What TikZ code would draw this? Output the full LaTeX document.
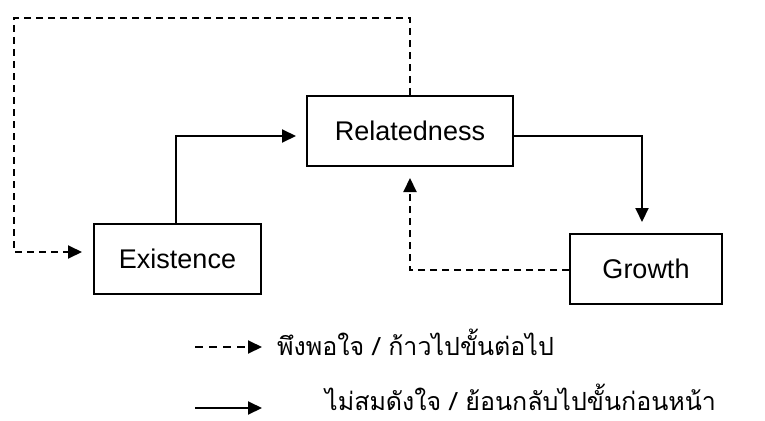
\documentclass[tikz,border=0pt]{standalone}
\usepackage{fontspec}
\setmainfont{Liberation Sans}
\newfontfamily\thaifont[Script=Thai]{Loma}
\usetikzlibrary{arrows.meta,calc,positioning}
\tikzset{
        block/.style = {draw, rectangle, line width=2pt,
            minimum height=70pt,
            font=\fontsize{27}{30}\selectfont},
        arrow/.style = {draw, line width=2pt, -{Triangle[length=14pt,width=13pt]}},
        dasharrow/.style = {arrow, dash pattern=on 7pt off 5pt},
        legend/.style = {anchor=base west, inner sep=0pt, font=\thaifont\fontsize{25}{30}\selectfont},
    }

\begin{document}
\begin{tikzpicture}[x=1pt,y=-1pt]
    \useasboundingbox (0,0) rectangle (765,420);

    \node[block, minimum width=206pt] (rel) at (410,131) {Relatedness};
    \node[block, minimum width=167pt] (exi) at (177.5,259) {Existence};
    \node[block, minimum width=152pt] (gro) at (646,269) {Growth};

    % progression
    \draw[arrow] (exi.north -| 176,0) |- ($(rel.west) + (-10,5)$);
    \draw[arrow] ($(rel.east) + (0,5)$) -| ($(gro.north) + (-4,-11)$);

    % regression
    \draw[dasharrow] (rel.north) -- (410,18) -- (14,18) |- ($(exi.west) + (-11,-7)$);
    \draw[dasharrow] ($(gro.west) + (0,1)$) -| ($(rel.south) + (0,11)$);

    % legend
    \coordinate (l1a) at (195,347);
    \coordinate (l1b) at (262,347);
    \coordinate (l2a) at (195,408);
    \coordinate (l2b) at (262,408);
    \draw[dasharrow, dash pattern=on 8pt off 6pt] (l1a) -- (l1b);
    \draw[arrow] (l2a) -- (l2b);
    \node[legend] (t1) at (277,355) {พึงพอใจ / ก้าวไปขั้นต่อไป};
    \node[legend] (t2) at (325,410) {ไม่สมดังใจ / ย้อนกลับไปขั้นก่อนหน้า};
\end{tikzpicture}
\end{document}
